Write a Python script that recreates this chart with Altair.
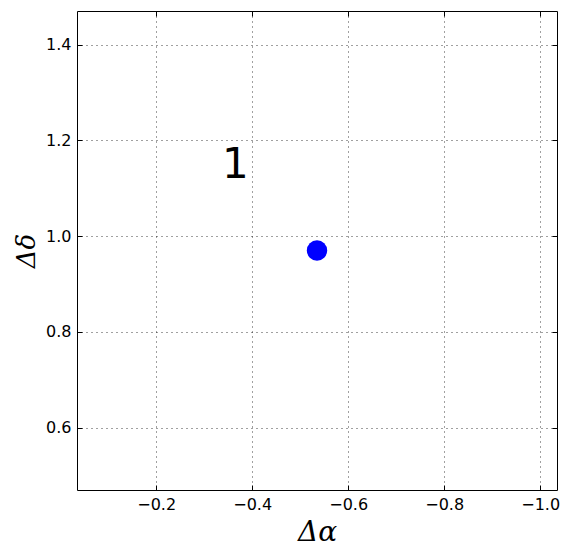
import altair as alt
import pandas as pd

# data
x_vals = [-0.535]
y_vals = [0.97]
labels = ["1"]
label_x = [-0.337]
label_y = [1.121]
x_ticks = [-0.2, -0.4, -0.6, -0.8, -1.0]
y_ticks = [0.6, 0.8, 1.0, 1.2, 1.4]
x_domain = [-1.035, -0.035]
y_domain = [0.47, 1.47]

pts = pd.DataFrame({"x": x_vals, "y": y_vals})
txt = pd.DataFrame({"x": label_x, "y": label_y, "label": labels})

xscale = alt.Scale(domain=x_domain, reverse=True, nice=False, zero=False)
yscale = alt.Scale(domain=y_domain, nice=False, zero=False)

grid_style = dict(grid=True, gridColor="black", gridDash=[1, 4], gridWidth=1, gridOpacity=0.75)
title_style = dict(titleFont="DejaVu Serif", titleFontStyle="italic", titleFontWeight="normal")

points = alt.Chart(pts).mark_point(filled=True, color="#0000ff", opacity=1, size=415).encode(
    x=alt.X("x:Q", scale=xscale,
            axis=alt.Axis(orient="bottom", values=x_ticks, format=".1f", title="Δα",
                          domain=False, offset=-5, tickSize=5, labelPadding=6,
                          titlePadding=6, titleFontSize=28, **title_style, **grid_style)),
    y=alt.Y("y:Q", scale=yscale,
            axis=alt.Axis(orient="left", values=y_ticks, format=".1f", title="Δδ",
                          domain=False, offset=-5, tickSize=5, labelPadding=6,
                          titlePadding=6, titleFontSize=26, **title_style, **grid_style)),
)

text = alt.Chart(txt).mark_text(font="DejaVu Sans", fontSize=42, align="left",
                                baseline="alphabetic", color="black").encode(
    x=alt.X("x:Q", scale=xscale,
            axis=alt.Axis(orient="top", values=x_ticks, labels=False, title=None,
                          domain=False, offset=-5, tickSize=5, grid=False)),
    y=alt.Y("y:Q", scale=yscale,
            axis=alt.Axis(orient="right", values=y_ticks, labels=False, title=None,
                          domain=False, offset=-5, tickSize=5, grid=False)),
    text="label:N",
)

chart = alt.layer(points, text).resolve_axis(x="independent", y="independent").properties(
    width=480, height=479,
    autosize=alt.AutoSizeParams(type="none"),
    padding={"left": 69, "top": 3, "right": 4, "bottom": 60},
).configure_view(stroke="black", strokeWidth=1).configure_axis(
    tickColor="black", labelColor="black", titleColor="black",
    labelFont="DejaVu Sans", labelFontSize=16, tickWidth=1,
)

chart.save("out.html", embed_options={"renderer": "svg", "actions": False})
